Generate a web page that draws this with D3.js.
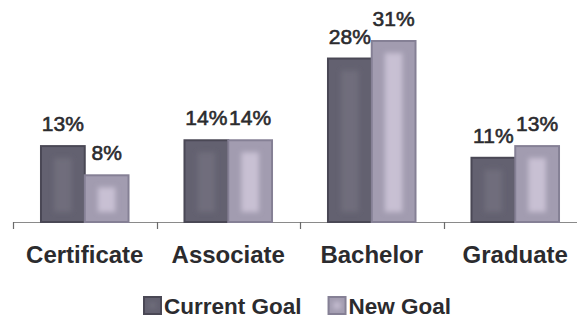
<!DOCTYPE html>
<html>
<head>
<meta charset="utf-8">
<script src="https://cdn.jsdelivr.net/npm/d3@7"></script>
<style>
  html, body { margin: 0; padding: 0; background: #ffffff; }
  svg { display: block; font-family: "Liberation Sans", Arial, sans-serif; }
</style>
</head>
<body>
<svg id="chart" width="577" height="320"></svg>
<script>
// ---- data ----
const categories = ["Certificate", "Associate", "Bachelor", "Graduate"];
const seriesNames = ["Current Goal", "New Goal"];
const currentGoal = [13, 14, 28, 11];
const newGoal = [8, 14, 31, 13];

// ---- styles ----
const fills = ["#636170", "#a29cb0"];
const innerFills = ["#6f6d7b", "#c8c0d3"];
const strokes = ["#4a4855", "#858095"];
const textColor = "#2b2b2e";

const svg = d3.select("#chart");
const W = 577;
const axisY = 222;

const x0 = d3.scaleBand().domain(categories).range([13, 587]).paddingInner(0).paddingOuter(0);
const groupFrac = 0.61;
const x1 = d3.scaleBand().domain(seriesNames).range([0, x0.bandwidth() * groupFrac]).padding(0);
const groupOffset = x0.bandwidth() * (1 - groupFrac) / 2;
const y = d3.scaleLinear().domain([0, 31]).range([axisY, 41]);

const rows = categories.map((c, i) => ({ cat: c, vals: [currentGoal[i], newGoal[i]] }));

// blur filter for inner glow
const defs = svg.append("defs");
const f = defs.append("filter").attr("id", "soft").attr("x", "-50%").attr("y", "-50%").attr("width", "200%").attr("height", "200%");
f.append("feGaussianBlur").attr("stdDeviation", 2.5);

// axis line and ticks
const axisG = svg.append("g").attr("transform", `translate(0,${axisY})`);
axisG.append("line").attr("x1", 13).attr("x2", W).attr("y1", 0.5).attr("y2", 0.5)
  .attr("stroke", "#8a8a8a").attr("stroke-width", 1.2);
const tickPositions = categories.map(c => x0(c));
axisG.selectAll("line.tick").data(tickPositions).join("line").attr("class", "tick")
  .attr("x1", d => Math.round(d) + 0.5).attr("x2", d => Math.round(d) + 0.5)
  .attr("y1", 0).attr("y2", 7).attr("stroke", "#6a6a6a").attr("stroke-width", 1.2);

// bars
const groups = svg.append("g").selectAll("g.grp").data(rows).join("g")
  .attr("class", "grp")
  .attr("transform", d => `translate(${x0(d.cat) + groupOffset},0)`);

const bars = groups.selectAll("g.bar").data(d => d.vals.map((v, i) => ({ v, i, s: seriesNames[i] })))
  .join("g").attr("class", "bar");

bars.append("rect")
  .attr("x", d => x1(d.s))
  .attr("y", d => y(d.v))
  .attr("width", x1.bandwidth())
  .attr("height", d => axisY - y(d.v))
  .attr("fill", d => fills[d.i])
  .attr("stroke", d => strokes[d.i])
  .attr("stroke-width", 2);

bars.append("rect")
  .attr("x", d => x1(d.s) + x1.bandwidth() * 0.3)
  .attr("y", d => y(d.v) + 12)
  .attr("width", x1.bandwidth() * 0.4)
  .attr("height", d => Math.max(0, axisY - y(d.v) - 22))
  .attr("fill", d => innerFills[d.i])
  .attr("filter", "url(#soft)");

// value labels
bars.append("text")
  .attr("x", d => x1(d.s) + x1.bandwidth() / 2)
  .attr("y", d => y(d.v) - 15)
  .attr("text-anchor", "middle")
  .attr("font-size", 21)
  .attr("fill", textColor)
  .attr("stroke", textColor)
  .attr("stroke-width", 0.6)
  .text(d => d.v + "%");

// category labels
svg.append("g").selectAll("text").data(categories).join("text")
  .attr("x", d => x0(d) + x0.bandwidth() / 2)
  .attr("y", 263)
  .attr("text-anchor", "middle")
  .attr("font-size", 24)
  .attr("font-weight", "bold")
  .attr("fill", textColor)
  .text(d => d);

// legend
const legend = svg.append("g");
let lx = 143;
seriesNames.forEach((name, i) => {
  legend.append("rect")
    .attr("x", lx + 1).attr("y", 297).attr("width", 17).attr("height", 17)
    .attr("fill", fills[i]).attr("stroke", strokes[i]).attr("stroke-width", 2);
  legend.append("rect")
    .attr("x", lx + 6).attr("y", 302).attr("width", 7).attr("height", 7)
    .attr("fill", innerFills[i]).attr("filter", "url(#soft)");
  const t = legend.append("text")
    .attr("x", lx + 21).attr("y", 314)
    .attr("font-size", 22.5).attr("font-weight", "bold")
    .attr("fill", textColor).text(name);
  lx += 21 + t.node().getComputedTextLength() + 26;
});
</script>
</body>
</html>
